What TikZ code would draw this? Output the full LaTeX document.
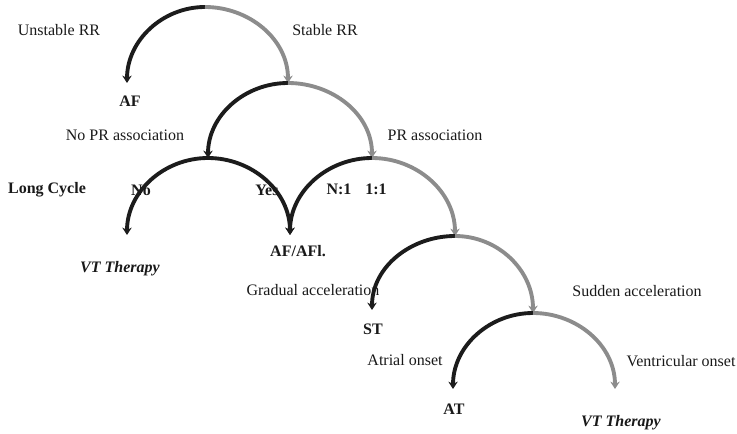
\documentclass[tikz,border=0pt]{standalone}
\usepackage{fontspec}
\setmainfont{Liberation Serif}
\usetikzlibrary{arrows.meta}
\definecolor{darkarc}{RGB}{28,28,28}
\definecolor{greyarc}{RGB}{140,140,140}
\definecolor{txt}{RGB}{25,25,25}
\tikzset{
  arcbase/.style={line width=2.9pt, -{Stealth[length=5.5pt,width=7pt]}},
  darkline/.style={arcbase, draw=darkarc, color=darkarc},
  greyline/.style={arcbase, draw=greyarc, color=greyarc},
  lbl/.style={text=txt, inner sep=0pt, font=\fontsize{12}{14}\selectfont},
  blbl/.style={lbl, font=\fontsize{12}{14}\selectfont\bfseries},
  vtlbl/.style={lbl, font=\fontsize{12}{14}\selectfont\bfseries\itshape}
}
\begin{document}
\begin{tikzpicture}[x=0.75pt,y=-0.75pt]
\useasboundingbox (0,0) rectangle (737,434);
% apex and tip points
\coordinate (a1) at (205,7);
\coordinate (l1) at (127,83);
\coordinate (a2) at (288,83);
\coordinate (l2) at (208,158);
\coordinate (a4) at (372,158);
\coordinate (l3) at (127,235);
\coordinate (t34) at (290,235);
\coordinate (a5) at (455,236);
\coordinate (l5) at (372,310);
\coordinate (a6) at (533,313);
\coordinate (l6) at (453,389);
\coordinate (r6) at (615,389);
% arcs
\draw[darkline] (a1) to[out=180,in=90] (l1);
\draw[greyline] (a1) to[out=0,in=90] (a2);
\draw[darkline] (a2) to[out=180,in=90] (l2);
\draw[greyline] (a2) to[out=0,in=90] (a4);
\draw[darkline] (l2) to[out=180,in=90] (l3);
\draw[darkline] (l2) to[out=0,in=90] (t34);
\draw[darkline] (a4) to[out=180,in=90] (t34);
\draw[greyline] (a4) to[out=0,in=90] (a5);
\draw[darkline] (a5) to[out=180,in=90] (l5);
\draw[greyline] (a5) to[out=0,in=90] (a6);
\draw[darkline] (a6) to[out=180,in=90] (l6);
\draw[greyline] (a6) to[out=0,in=90] (r6);
% labels
\node[lbl] (unst) at (59,30) {Unstable RR};
\node[lbl] (stab) at (325,30) {Stable RR};
\node[blbl] (af) at (130,101) {AF};
\node[lbl] (nopr) at (125,135) {No PR association};
\node[lbl] (pr) at (435,135) {PR association};
\node[blbl] (long) at (47,190) {Long Cycle};
\node[blbl] (no) at (141,190) {No};
\node[blbl] (yes) at (267,190) {Yes};
\node[blbl] (n1) at (339,189) {N:1};
\node[blbl] (one) at (376,189) {1:1};
\node[vtlbl] (vt1) at (120,269) {VT Therapy};
\node[blbl] (afl) at (298,251) {AF/AFl.};
\node[lbl] (grad) at (313,290) {Gradual acceleration};
\node[lbl] (sudd) at (637,291) {Sudden acceleration};
\node[blbl] (st) at (373,329) {ST};
\node[lbl] (atr) at (405,360) {Atrial onset};
\node[lbl] (ven) at (681,361) {Ventricular onset};
\node[blbl] (at) at (454,409) {AT};
\node[vtlbl] (vt2) at (621,423) {VT Therapy};
\end{tikzpicture}
\end{document}
